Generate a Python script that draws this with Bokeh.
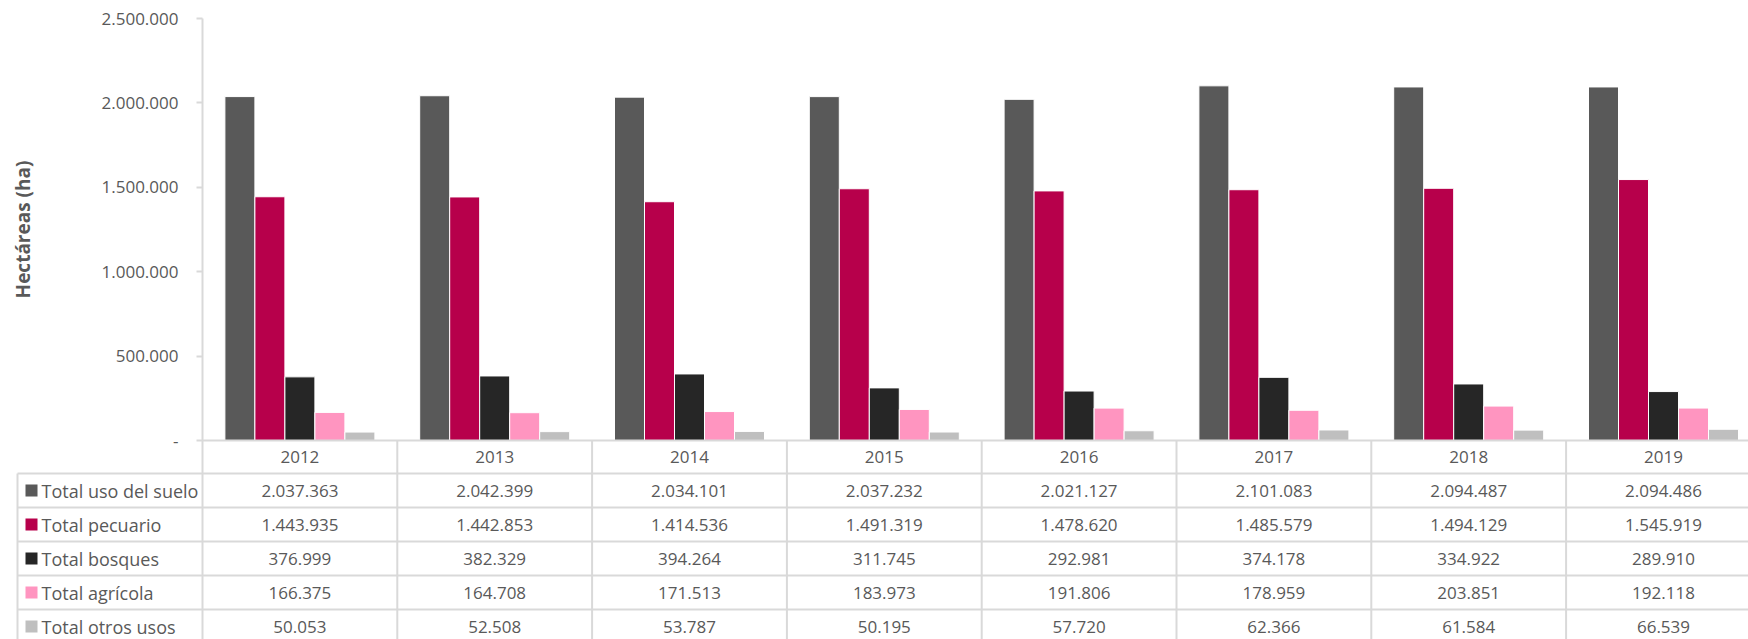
import math
from bokeh.plotting import figure
from bokeh.models import Range1d, LinearAxis, FixedTicker, ColumnDataSource
from bokeh.core.properties import value
from bokeh.embed import file_html
from bokeh.resources import INLINE

# ---------------- data ----------------
years = ["2012", "2013", "2014", "2015", "2016", "2017", "2018", "2019"]
series_names = ["Total uso del suelo", "Total pecuario", "Total bosques",
                "Total agrícola", "Total otros usos"]
uso_suelo = [2037363, 2042399, 2034101, 2037232, 2021127, 2101083, 2094487, 2094486]
pecuario = [1443935, 1442853, 1414536, 1491319, 1478620, 1485579, 1494129, 1545919]
bosques = [376999, 382329, 394264, 311745, 292981, 374178, 334922, 289910]
agricola = [166375, 164708, 171513, 183973, 191806, 178959, 203851, 192118]
otros = [50053, 52508, 53787, 50195, 57720, 62366, 61584, 66539]
y_ticks = [0, 500000, 1000000, 1500000, 2000000, 2500000]
y_title = "Hectáreas (ha)"

series_values = [uso_suelo, pecuario, bosques, agricola, otros]
colors = ["#595959", "#B7004B", "#262626", "#FF95C0", "#BFBFBF"]

def fmt(v):
    return f"{v:,}".replace(",", ".")

# ---------------- layout (px) ----------------
FIG_W, FIG_H = 1748, 639
AXIS_PX = 202            # y axis x position
CAT_PX = 194.8           # width of one year column
TOP_PX = 18              # y of the top tick
ZERO_PX = 440            # y of the zero line
YMAX = y_ticks[-1]
VPP = YMAX / (ZERO_PX - TOP_PX)
BELOW = FIG_H - ZERO_PX

x_start = -AXIS_PX / CAT_PX
x_end = (FIG_W - AXIS_PX) / CAT_PX

def xpx(px):
    return (px - AXIS_PX) / CAT_PX

p = figure(width=FIG_W, height=FIG_H, output_backend="svg", toolbar_location=None,
           x_range=Range1d(x_start, x_end),
           y_range=Range1d(-BELOW * VPP, YMAX + TOP_PX * VPP),
           x_axis_location=None, y_axis_location=None)
p.extra_y_ranges = {"tbl": Range1d(-BELOW, ZERO_PX)}
p.min_border = 0
p.outline_line_color = None
p.xgrid.visible = False
p.ygrid.visible = False

GRID = "#d9d9d9"
TXT = "#595959"
FONT = "Open Sans"
FS = "17px"

# ---------------- y axis ----------------
yaxis = LinearAxis(fixed_location=0, ticker=FixedTicker(ticks=y_ticks))
yaxis.major_label_overrides = {t: ("-" if t == 0 else fmt(t)) for t in y_ticks}
yaxis.minor_tick_line_color = None
yaxis.major_tick_in = 0
yaxis.major_tick_out = 6
yaxis.axis_line_color = None
yaxis.major_tick_line_color = GRID
yaxis.major_tick_line_width = 2
yaxis.major_label_text_color = TXT
yaxis.major_label_text_font = FONT
yaxis.major_label_text_font_size = FS
yaxis.major_label_standoff = 18
p.add_layout(yaxis, "left")

# axis line from the top tick down through the table
p.segment(x0=[0], x1=[0], y0=[YMAX], y1=[-BELOW * VPP], line_color=GRID, line_width=2)

# axis title
p.text(x=[xpx(22)], y=[YMAX / 2], text=[y_title], angle=math.pi / 2,
       text_align="center", text_baseline="middle", text_font=value(FONT),
       text_font_style="bold", text_font_size="19px", text_color=TXT)

# ---------------- bars ----------------
BAR_W = 30 / CAT_PX
n = len(series_names)
for j, (name, vals, col) in enumerate(zip(series_names, series_values, colors)):
    xs = [i + 0.5 + (j - (n - 1) / 2) * BAR_W for i in range(len(years))]
    src = ColumnDataSource(dict(x=xs, top=vals))
    p.vbar(x="x", top="top", bottom=0, width=BAR_W, source=src,
           fill_color=col, line_color="white", line_width=1)

# ---------------- table ----------------
HEADER_H = 33
ROW_H = 34
row_edges = [0, -HEADER_H] + [-HEADER_H - ROW_H * (k + 1) for k in range(n)]
LBL_LEFT = xpx(17)

hx0, hx1, hy = [], [], []
for k, yy in enumerate(row_edges):
    hx0.append(0 if k == 0 else LBL_LEFT)
    hx1.append(len(years))
    hy.append(yy)
p.segment(x0=hx0, x1=hx1, y0=hy, y1=hy, line_color=GRID, line_width=2, y_range_name="tbl")

vx = [LBL_LEFT] + list(range(1, len(years) + 1))
vy0 = [-HEADER_H] + [0] * len(years)
vy1 = [row_edges[-1]] * len(vx)
p.segment(x0=vx, x1=vx, y0=vy0, y1=vy1, line_color=GRID, line_width=2, y_range_name="tbl")

p.text(x=[i + 0.5 for i in range(len(years))], y=[-HEADER_H / 2] * len(years), text=years,
       text_align="center", text_baseline="middle", text_font=value(FONT),
       text_font_size=FS, text_color=TXT, y_range_name="tbl")

for j, (name, vals, col) in enumerate(zip(series_names, series_values, colors)):
    yc = (row_edges[j + 1] + row_edges[j + 2]) / 2
    p.text(x=[i + 0.5 for i in range(len(years))], y=[yc] * len(years),
           text=[fmt(v) for v in vals], text_align="center", text_baseline="middle",
           text_font=value(FONT), text_font_size=FS, text_color=TXT, y_range_name="tbl")
    p.scatter(x=[xpx(31)], y=[yc], marker="square", size=12,
              fill_color=col, line_color=None, y_range_name="tbl")
    p.text(x=[xpx(41)], y=[yc], text=[name], text_align="left",
           text_baseline="middle", text_font=value(FONT), text_font_size="18px",
           text_color=TXT, y_range_name="tbl")

open("out.html", "w").write(file_html(p, INLINE))
